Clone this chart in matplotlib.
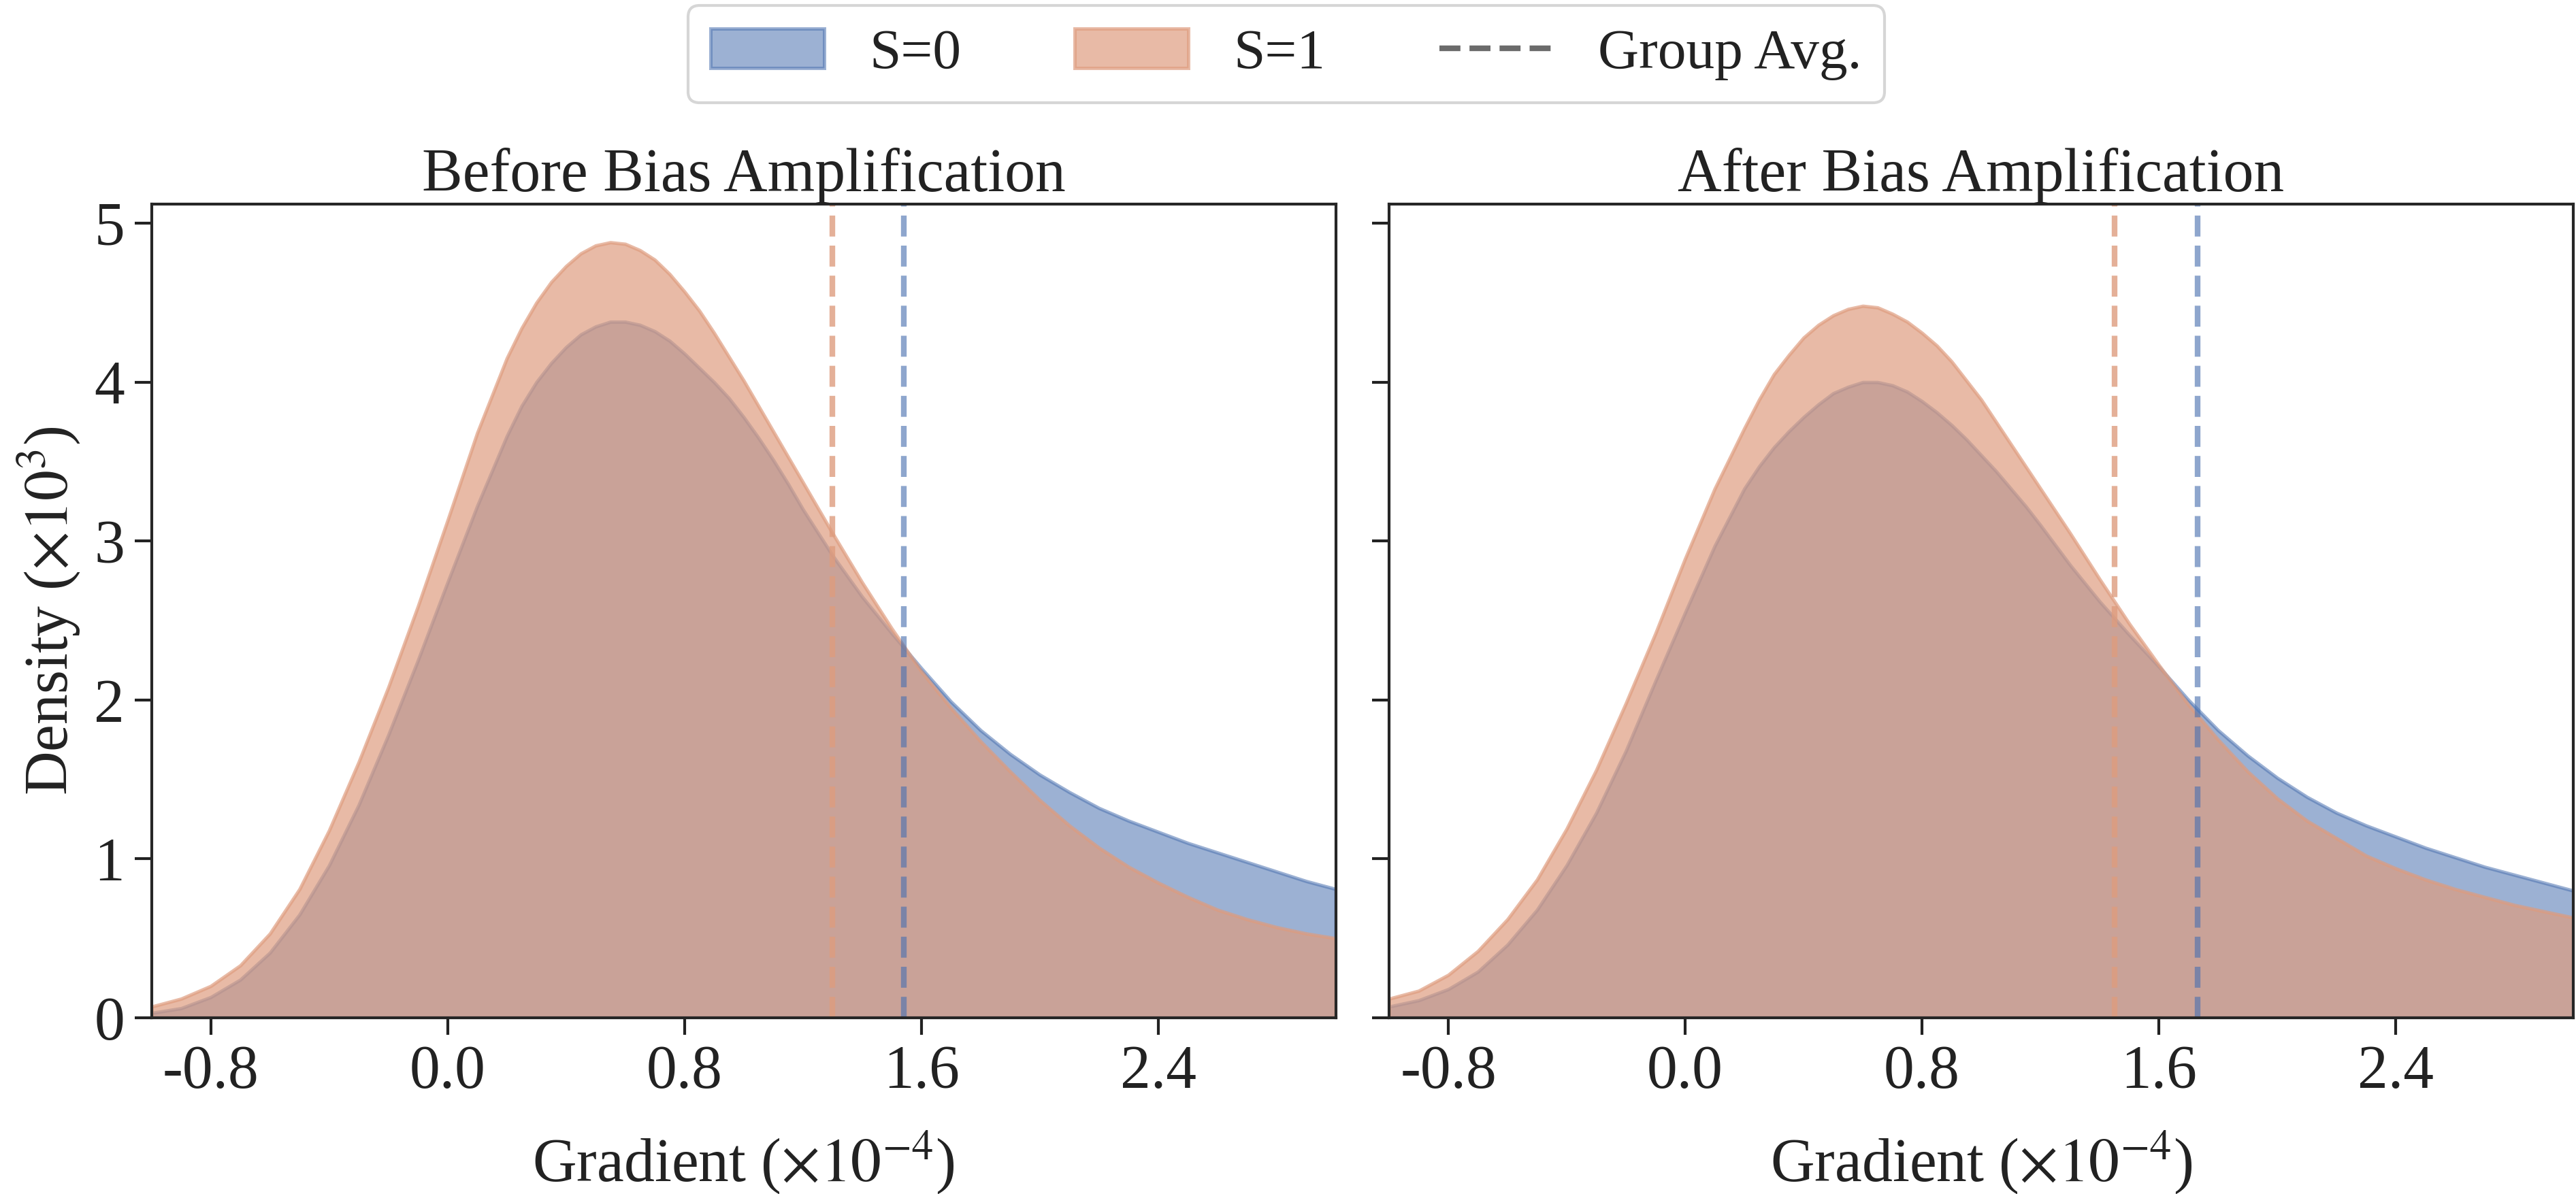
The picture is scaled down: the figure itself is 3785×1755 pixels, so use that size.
import numpy as np
import matplotlib
matplotlib.use('Agg')
import matplotlib.pyplot as plt
from matplotlib.patches import Patch
from matplotlib.lines import Line2D
from matplotlib.ticker import MultipleLocator, FormatStrFormatter

plt.rcParams['font.family'] = ['Liberation Serif', 'DejaVu Serif']
plt.rcParams['mathtext.fontset'] = 'stix'
plt.rcParams['text.color'] = '#222222'
plt.rcParams['axes.labelcolor'] = '#222222'
plt.rcParams['xtick.color'] = '#222222'
plt.rcParams['ytick.color'] = '#222222'

# gradient grid (x 1e-4) where the densities were read (finer around the peaks)
grad = [-1.0, -0.9, -0.8, -0.7, -0.6, -0.5, -0.4, -0.3, -0.2, -0.1, 0.0, 0.1, 0.2,
        0.25, 0.3, 0.35, 0.4, 0.45, 0.5, 0.55, 0.6, 0.65, 0.7, 0.75, 0.8, 0.85,
        0.9, 0.95, 1.0, 1.05, 1.1, 1.15, 1.2,
        1.3, 1.4, 1.5, 1.6, 1.7, 1.8, 1.9, 2.0, 2.1, 2.2, 2.3, 2.4, 2.5, 2.6,
        2.7, 2.8, 2.9, 3.0]

# density (x 1e3), before bias amplification
before_s0 = [0.03, 0.06, 0.13, 0.24, 0.41, 0.65, 0.96, 1.34, 1.78, 2.25, 2.74, 3.22, 3.66,
             3.85, 4.00, 4.12, 4.22, 4.30, 4.35, 4.38, 4.38, 4.36, 4.32, 4.26, 4.18, 4.09,
             4.00, 3.90, 3.78, 3.65, 3.51, 3.36, 3.20,
             2.91, 2.65, 2.42, 2.20, 1.99, 1.81, 1.66, 1.53, 1.42, 1.32, 1.24, 1.17, 1.10, 1.04,
             0.98, 0.92, 0.86, 0.81]
before_s1 = [0.07, 0.12, 0.20, 0.33, 0.53, 0.81, 1.18, 1.61, 2.08, 2.59, 3.13, 3.68, 4.15,
             4.34, 4.50, 4.63, 4.73, 4.81, 4.86, 4.88, 4.87, 4.83, 4.77, 4.68, 4.57, 4.45,
             4.31, 4.16, 4.01, 3.85, 3.69, 3.53, 3.37,
             3.05, 2.74, 2.45, 2.18, 1.95, 1.74, 1.55, 1.37, 1.21, 1.07, 0.95, 0.85, 0.76, 0.68,
             0.62, 0.57, 0.53, 0.50]

# density (x 1e3), after bias amplification
after_s0 = [0.07, 0.11, 0.18, 0.29, 0.46, 0.68, 0.96, 1.29, 1.68, 2.12, 2.55, 2.97, 3.33,
            3.47, 3.59, 3.69, 3.78, 3.86, 3.93, 3.97, 4.00, 4.00, 3.98, 3.94, 3.88, 3.81,
            3.73, 3.64, 3.54, 3.44, 3.33, 3.22, 3.10,
            2.85, 2.62, 2.41, 2.21, 2.00, 1.81, 1.65, 1.51, 1.39, 1.29, 1.21, 1.14, 1.07, 1.01,
            0.95, 0.90, 0.85, 0.80]
after_s1 = [0.12, 0.17, 0.27, 0.42, 0.62, 0.87, 1.19, 1.56, 1.98, 2.42, 2.89, 3.33, 3.71,
            3.89, 4.05, 4.17, 4.28, 4.36, 4.42, 4.46, 4.48, 4.47, 4.43, 4.38, 4.31, 4.23,
            4.13, 4.01, 3.89, 3.75, 3.61, 3.47, 3.33,
            3.05, 2.76, 2.48, 2.22, 1.97, 1.75, 1.55, 1.38, 1.24, 1.13, 1.02, 0.94, 0.87, 0.81,
            0.76, 0.71, 0.67, 0.63]

# group averages of the gradient
avg_s0 = [1.54, 1.73]
avg_s1 = [1.30, 1.45]

titles = ['Before Bias Amplification', 'After Bias Amplification']
legend_labels = ['S=0', 'S=1', 'Group Avg.']

blue = '#4C72B0'
orange = '#DE9C7E'

fig, axes = plt.subplots(1, 2, sharey=True, figsize=(12.62, 5.85), dpi=300)
fig.subplots_adjust(left=0.0588, right=0.9987, bottom=0.1476, top=0.829, wspace=0.045)

series = [(before_s0, before_s1), (after_s0, after_s1)]
for i, ax in enumerate(axes):
    s0, s1 = series[i]
    ax.fill_between(grad, s0, color=blue, alpha=0.55, lw=1.2)
    ax.fill_between(grad, s1, color=orange, alpha=0.69, lw=1.2)
    ax.axvline(avg_s1[i], color=orange, alpha=0.8, ls='--', lw=2)
    ax.axvline(avg_s0[i], color=blue, alpha=0.63, ls='--', lw=2)
    ax.set_xlim(-1.0, 3.0)
    ax.set_ylim(0, 5.12)
    ax.xaxis.set_major_locator(MultipleLocator(0.8))
    ax.xaxis.set_major_formatter(FormatStrFormatter('%.1f'))
    ax.tick_params(labelsize=21.5, length=6, width=1.0)
    ax.set_title(titles[i], fontsize=21.5, pad=2)
    ax.set_xlabel(r'Gradient ($\times10^{-4}$)', fontsize=21.5, labelpad=10)
    for sp in ax.spines.values():
        sp.set_color('#262626')
        sp.set_linewidth(1.0)

axes[0].set_ylabel(r'Density ($\times10^{3}$)', fontsize=21.5)

handles = [Patch(facecolor=blue, edgecolor=blue, alpha=0.55, lw=1.2),
           Patch(facecolor=orange, edgecolor=orange, alpha=0.69, lw=1.2),
           Line2D([0], [0], color='#6b6b6b', ls='--', lw=2)]
fig.legend(handles, legend_labels, loc='upper center', bbox_to_anchor=(0.4992, 1.0),
           borderaxespad=0.1, ncol=3, fontsize=20, frameon=True)

fig.savefig('out.png', dpi=300)
